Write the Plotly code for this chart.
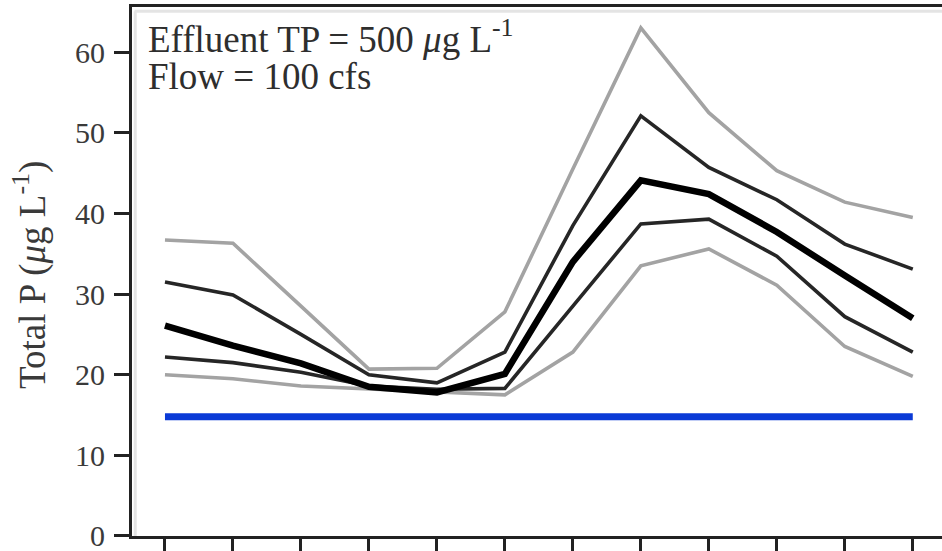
import plotly.graph_objects as go

# ---- data ----
months = list(range(12))
light_upper = [36.7, 36.3, 28.5, 20.7, 20.8, 27.8, 45.5, 63.0, 52.5, 45.3, 41.4, 39.5]
dark_upper  = [31.5, 29.9, 25.0, 20.0, 19.0, 22.8, 38.5, 52.1, 45.7, 41.7, 36.2, 33.1]
median      = [26.1, 23.6, 21.4, 18.5, 17.8, 20.1, 34.0, 44.1, 42.4, 37.7, 32.3, 27.0]
dark_lower  = [22.2, 21.5, 20.3, 18.6, 18.2, 18.3, 28.5, 38.7, 39.3, 34.7, 27.2, 22.8]
light_lower = [20.0, 19.5, 18.6, 18.2, 17.8, 17.5, 22.8, 33.5, 35.6, 31.1, 23.5, 19.8]
target      = [14.8] * 12
y_ticks = [0, 10, 20, 30, 40, 50, 60]

W, H = 942, 551
L, R, T, B = 132, 0, 7, 15
SERIF = "Liberation Serif"
TXT = "#2e2e2e"

fig = go.Figure()

def add(y, color, width):
    fig.add_trace(go.Scatter(x=months, y=y, mode="lines",
                             line=dict(color=color, width=width),
                             showlegend=False, hoverinfo="skip"))

add(light_upper, "#a3a3a3", 3.6)
add(light_lower, "#a3a3a3", 3.6)
add(dark_upper, "#262626", 3.6)
add(dark_lower, "#262626", 3.6)
add(median, "#000000", 6.5)
add(target, "#0b3ad6", 7)

fig.update_layout(
    width=W, height=H,
    margin=dict(l=L, r=R, t=T, b=B, pad=0),
    paper_bgcolor="white", plot_bgcolor="white",
    font=dict(family=SERIF, color=TXT),
    showlegend=False,
)

fig.update_xaxes(
    range=[-0.485, 11.43], tickvals=months, showticklabels=False,
    ticks="outside", ticklen=15, tickwidth=3, tickcolor="#222",
    showline=True, linecolor="#222", linewidth=3, mirror=True,
    showgrid=False, zeroline=False,
)
fig.update_yaxes(
    range=[-0.001, 65.6], tickvals=y_ticks,
    ticks="outside", ticklen=15, tickwidth=3, tickcolor="#222",
    tickfont=dict(family=SERIF, size=30, color="#3a3a3a"),
    ticklabelstandoff=3, ticklabeloverflow="allow",
    showline=True, linecolor="#222", linewidth=3,
    showgrid=False, zeroline=False,
)

# faint inner shadow stripes inside top and left borders
fig.add_shape(type="line", xref="paper", yref="paper", x0=0.003, x1=1, y0=0.992, y1=0.992,
              line=dict(color="#e4e4e4", width=3), layer="below")
fig.add_shape(type="line", xref="paper", yref="paper", x0=0.004, x1=0.004, y0=0, y1=0.992,
              line=dict(color="#e4e4e4", width=3), layer="below")

plot_w = W - L - R
plot_h = H - T - B

def px_x(px):
    return (px - L) / plot_w

def px_y(py):
    return (H - B - py) / plot_h

fig.add_annotation(text="Effluent TP = 500 <i>μ</i>g L<sup>-1</sup>", xref="paper", yref="paper",
                   x=px_x(146), y=px_y(37), xanchor="left", yanchor="middle",
                   showarrow=False, font=dict(family=SERIF, size=37, color=TXT))
fig.add_annotation(text="Flow = 100 cfs", xref="paper", yref="paper",
                   x=px_x(146), y=px_y(76), xanchor="left", yanchor="middle",
                   showarrow=False, font=dict(family=SERIF, size=37, color=TXT))
fig.add_annotation(text="Total P (<i>μ</i>g L<sup>-1</sup>)", xref="paper", yref="paper",
                   x=px_x(30), y=px_y(275), xanchor="center", yanchor="middle", textangle=-90,
                   showarrow=False, font=dict(family=SERIF, size=37, color="#3a3a3a"))

fig.write_html("out.html")
